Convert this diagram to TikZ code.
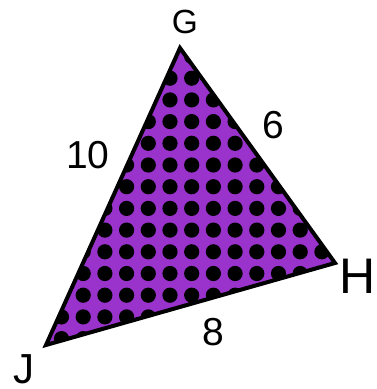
\documentclass[tikz,border=0pt]{standalone}
\usepackage{fontspec}
\setmainfont{Liberation Sans}
\definecolor{trifill}{RGB}{153,51,204}
\begin{document}
\begin{tikzpicture}[
        x=1pt, y=-1pt,
        edge/.style={draw=black, line width=4pt, line join=miter},
        dot/.style={fill=black},
        lbl/.style={anchor=base, inner sep=0pt, text=black},
        num/.style={lbl, font=\fontsize{39}{39}\selectfont}
    ]
    \useasboundingbox (0,0) rectangle (376,389);

    \coordinate (G) at (180,48);
    \coordinate (H) at (335,263);
    \coordinate (J) at (46,345);

    % filled triangle with dots
    \fill[trifill] (G) -- (H) -- (J) -- cycle;
    \begin{scope}
        \clip (G) -- (H) -- (J) -- cycle;
        \foreach \i in {-7,...,8}
            \foreach \j in {-6,...,9}
                \fill[dot] (170+21.7*\i, 165+21.7*\j) circle [radius=7.6pt];
    \end{scope}
    \draw[edge] (G) -- (H) -- (J) -- cycle;

    % vertex names
    \node[lbl, font=\fontsize{33.5}{33.5}\selectfont] (nG) at (185,33) {G};
    \node[lbl, font=\fontsize{50}{50}\selectfont] (nH) at (358,293) {H};
    \node[lbl, font=\fontsize{42}{42}\selectfont] (nJ) at (24,383) {J};

    % side lengths
    \node[num] (sGJ) at (88,168) {10};
    \node[num] (sGH) at (273,138) {6};
    \node[num] (sHJ) at (213,345) {8};
\end{tikzpicture}
\end{document}
